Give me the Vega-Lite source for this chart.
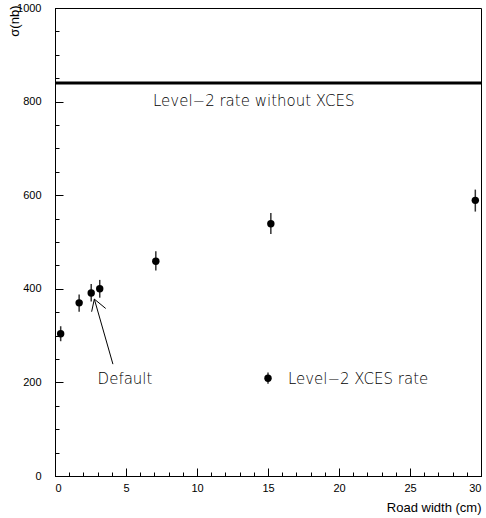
{
  "$schema": "https://vega.github.io/schema/vega-lite/v6.json",
  "width": 426,
  "height": 468,
  "autosize": "none",
  "padding": {"left": 55, "top": 8, "right": 5, "bottom": 42},
  "background": "white",
  "config": {
    "view": {"stroke": "#000", "strokeWidth": 1},
    "axis": {"domainColor": "#000", "tickColor": "#000", "labelColor": "#000", "titleColor": "#000", "labelFont": "Liberation Sans", "titleFont": "Liberation Sans", "labelFontSize": 11, "titleFontSize": 13, "titleFontWeight": "normal", "grid": false, "format": "d"}
  },
  "datasets": {
    "pts": [
      {"w": 0.4, "rate": 304, "lo": 288, "hi": 320},
      {"w": 1.7, "rate": 370, "lo": 351, "hi": 388},
      {"w": 2.55, "rate": 391, "lo": 373, "hi": 410},
      {"w": 3.15, "rate": 400, "lo": 381, "hi": 419},
      {"w": 7.1, "rate": 459, "lo": 439, "hi": 480},
      {"w": 15.2, "rate": 539, "lo": 517, "hi": 562},
      {"w": 29.6, "rate": 589, "lo": 565, "hi": 612}
    ],
    "legend": [{"w": 15.0, "rate": 209, "lo": 197, "hi": 221}],
    "arrow": [
      {"x": 4.08, "y": 239, "x2": 2.77, "y2": 378},
      {"x": 2.58, "y": 351, "x2": 2.77, "y2": 378},
      {"x": 3.57, "y": 358, "x2": 2.77, "y2": 378}
    ],
    "labels": [
      {"x": 6.9, "y": 801, "t": "Level−2 rate without XCES"},
      {"x": 3.0, "y": 208, "t": "Default"},
      {"x": 16.4, "y": 208, "t": "Level−2 XCES rate"}
    ],
    "hline": [{"x": 0, "x2": 30, "y": 840}]
  },
  "layer": [
    {
      "data": {"name": "hline"},
      "mark": {"type": "rule", "strokeWidth": 3, "color": "#000"},
      "encoding": {
        "x": {"field": "x", "type": "quantitative", "scale": {"domain": [0, 30], "nice": false}, "axis": {"orient": "bottom", "values": [0,1,2,3,4,5,6,7,8,9,10,11,12,13,14,15,16,17,18,19,20,21,22,23,24,25,26,27,28,29,30], "tickSize": -4, "labels": false, "title": null, "domain": true}},
        "x2": {"field": "x2"},
        "y": {"field": "y", "type": "quantitative", "scale": {"domain": [0, 1000], "nice": false}, "axis": {"orient": "left", "values": [0,50,100,150,200,250,300,350,400,450,500,550,600,650,700,750,800,850,900,950,1000], "tickSize": -4, "labels": false, "title": null}}
      }
    },
    {
      "data": {"name": "pts"},
      "mark": {"type": "rule", "color": "#333", "strokeWidth": 1.5},
      "encoding": {
        "x": {"field": "w", "type": "quantitative", "axis": {"orient": "bottom", "values": [0,5,10,15,20,25,30], "tickSize": -8, "labelPadding": 14, "title": "Road width (cm)", "titleAnchor": "end", "titlePadding": 8}},
        "y": {"field": "lo", "type": "quantitative", "axis": {"orient": "left", "values": [0,200,400,600,800,1000], "tickSize": -8, "labelPadding": 22, "title": "σ(nb)", "titleAngle": 270, "titleAlign": "right", "titleBaseline": "middle", "titleX": -41, "titleY": -3}},
        "y2": {"field": "hi"}
      }
    },
    {
      "data": {"name": "pts"},
      "mark": {"type": "circle", "size": 55, "color": "#000", "opacity": 1},
      "encoding": {
        "x": {"field": "w", "type": "quantitative", "axis": null},
        "y": {"field": "rate", "type": "quantitative", "axis": null}
      }
    },
    {
      "data": {"name": "legend"},
      "mark": {"type": "rule", "color": "#333", "strokeWidth": 1.5},
      "encoding": {
        "x": {"field": "w", "type": "quantitative", "axis": null},
        "y": {"field": "lo", "type": "quantitative", "axis": null},
        "y2": {"field": "hi"}
      }
    },
    {
      "data": {"name": "legend"},
      "mark": {"type": "circle", "size": 55, "color": "#000", "opacity": 1},
      "encoding": {
        "x": {"field": "w", "type": "quantitative", "axis": null},
        "y": {"field": "rate", "type": "quantitative", "axis": null}
      }
    },
    {
      "data": {"name": "arrow"},
      "mark": {"type": "rule", "color": "#000", "strokeWidth": 1},
      "encoding": {
        "x": {"field": "x", "type": "quantitative", "axis": null},
        "y": {"field": "y", "type": "quantitative", "axis": null},
        "x2": {"field": "x2"},
        "y2": {"field": "y2"}
      }
    },
    {
      "data": {"name": "labels"},
      "mark": {"type": "text", "align": "left", "baseline": "middle", "font": "DejaVu Sans", "fontWeight": 300, "fontSize": 15, "color": "#000"},
      "encoding": {
        "x": {"field": "x", "type": "quantitative", "axis": null},
        "y": {"field": "y", "type": "quantitative", "axis": null},
        "text": {"field": "t"}
      }
    }
  ],
  "resolve": {"axis": {"x": "independent", "y": "independent"}}
}
